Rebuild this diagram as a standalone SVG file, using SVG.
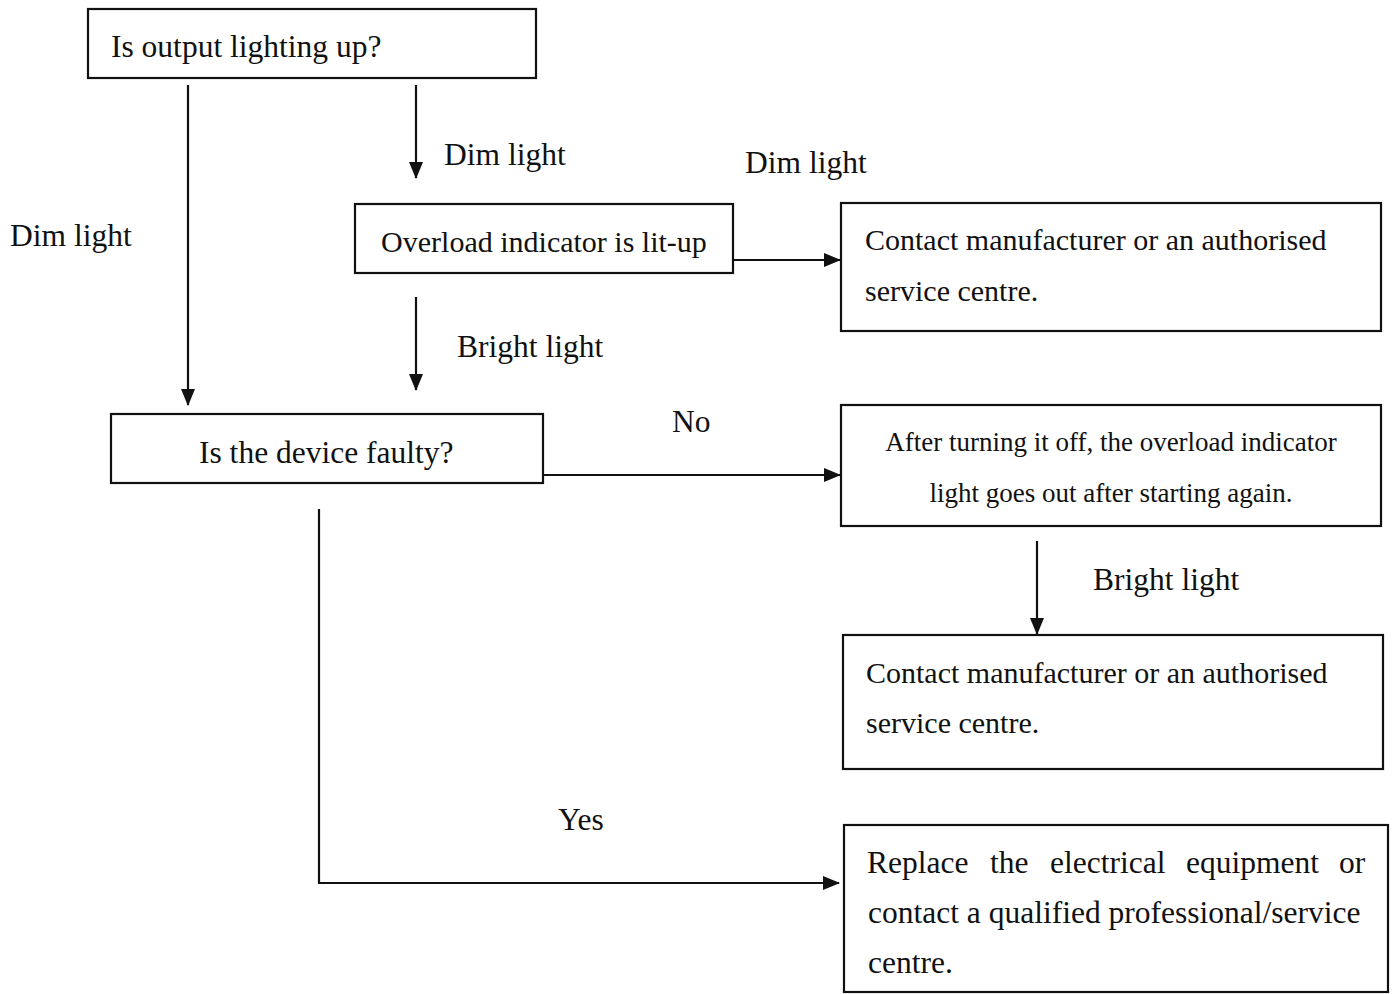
<svg xmlns="http://www.w3.org/2000/svg" width="1397" height="994" viewBox="0 0 1397 994">
<style>
.box{fill:#fff;stroke:#111;stroke-width:2.2}
.t{font-family:"Liberation Serif","Times New Roman",serif;fill:#111;font-size:31.5px}
.m{font-size:30px}
.s{font-size:27px}
.c{fill:none;stroke:#111;stroke-width:2.2}
</style>
<defs>
<marker id="ah" markerUnits="userSpaceOnUse" markerWidth="17" markerHeight="14" refX="16" refY="7" orient="auto">
<path d="M0,0 L17,7 L0,14 Z" fill="#111"/>
</marker>
</defs>
<rect width="1397" height="994" fill="#fff"/>
<g id="connectors">
<line class="c" x1="188" y1="85" x2="188" y2="405" marker-end="url(#ah)"/>
<line class="c" x1="416" y1="85" x2="416" y2="178" marker-end="url(#ah)"/>
<line class="c" x1="416" y1="297" x2="416" y2="390" marker-end="url(#ah)"/>
<line class="c" x1="733" y1="260" x2="840" y2="260" marker-end="url(#ah)"/>
<line class="c" x1="543" y1="475" x2="840" y2="475" marker-end="url(#ah)"/>
<line class="c" x1="1037" y1="541" x2="1037" y2="634" marker-end="url(#ah)"/>
<polyline class="c" points="319,509 319,883 839,883" marker-end="url(#ah)"/>
<text class="t" x="10" y="246">Dim light</text>
<text class="t" x="444" y="165">Dim light</text>
<text class="t" x="745" y="173">Dim light</text>
<text class="t" x="457" y="357">Bright light</text>
<text class="t" x="1093" y="590">Bright light</text>
<text class="t" x="672" y="432">No</text>
<text class="t" x="558" y="830">Yes</text>
</g>
<g id="n1">
<rect class="box" x="88" y="9" width="448" height="69"/>
<text class="t" x="111" y="57">Is output lighting up?</text>
</g>
<g id="n2">
<rect class="box" x="355" y="204" width="378" height="69"/>
<text class="t m" x="544" y="252" text-anchor="middle">Overload indicator is lit-up</text>
</g>
<g id="n3">
<rect class="box" x="841" y="203" width="540" height="128"/>
<text class="t m" x="865" y="250">Contact manufacturer or an authorised</text>
<text class="t m" x="865" y="301">service centre.</text>
</g>
<g id="n4">
<rect class="box" x="111" y="414" width="432" height="69"/>
<text class="t" x="199" y="463">Is the device faulty?</text>
</g>
<g id="n5">
<rect class="box" x="841" y="405" width="540" height="121"/>
<text class="t s" x="1111" y="451" text-anchor="middle">After turning it off, the overload indicator</text>
<text class="t s" x="1111" y="502" text-anchor="middle">light goes out after starting again.</text>
</g>
<g id="n6">
<rect class="box" x="843" y="635" width="540" height="134"/>
<text class="t m" x="866" y="683">Contact manufacturer or an authorised</text>
<text class="t m" x="866" y="733">service centre.</text>
</g>
<g id="n7">
<rect class="box" x="844" y="825" width="544" height="167"/>
<text class="t" y="873"><tspan x="867">Replace</tspan><tspan x="990">the</tspan><tspan x="1050">electrical</tspan><tspan x="1186">equipment</tspan><tspan x="1339">or</tspan></text>
<text class="t" x="868" y="923">contact a qualified professional/service</text>
<text class="t" x="868" y="973">centre.</text>
</g>
</svg>
